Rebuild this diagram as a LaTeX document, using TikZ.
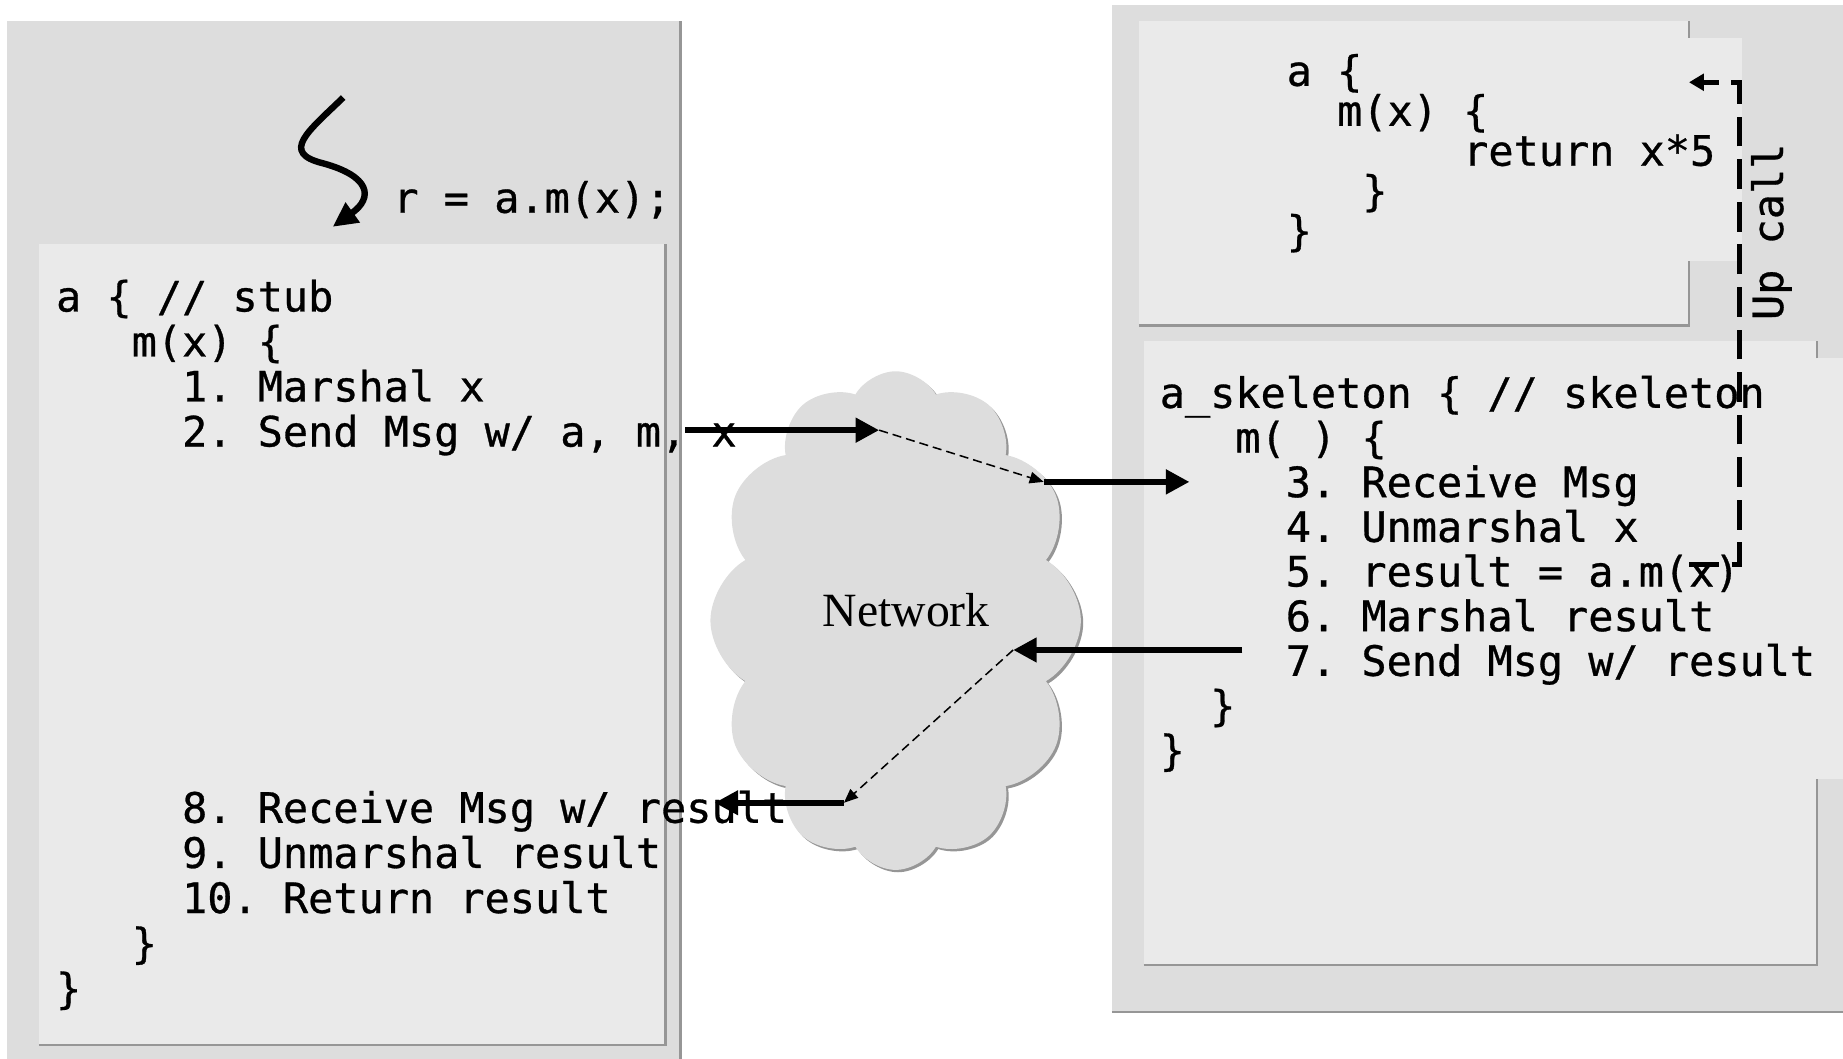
\documentclass[tikz,border=0pt]{standalone}
\usepackage{fontspec}
\setmonofont{DejaVu Sans Mono}[FakeBold=0.7]
\newfontfamily\netfont{Liberation Serif}
\usetikzlibrary{arrows.meta,shapes.symbols}

\definecolor{boxdark}{RGB}{221,221,221}
\definecolor{boxlight}{RGB}{234,234,234}
\definecolor{rimgray}{RGB}{150,150,150}

\tikzset{
  code/.style={font=\ttfamily\fontsize{10.13pt}{10.9pt}\selectfont, inner sep=0pt, anchor=base west},
  rim/.style={draw=rimgray, line width=0.6pt},
  netcloud/.style={cloud, cloud puffs=12, cloud puff arc=120, aspect=0.74,
    minimum width=3.15cm, minimum height=4.24cm, inner sep=0pt},
  thread/.style={line width=1.55pt, -{Triangle[length=6pt,width=5.6pt]}},
  fatarrow/.style={line width=1.5pt, -{Triangle[length=5.7pt,width=5.7pt]}},
  hop/.style={line width=0.37pt, dash pattern=on 2.2pt off 1.2pt, -{Triangle[length=3.4pt,width=2.8pt]}},
  upcall/.style={line width=1.15pt, dash pattern=on 7.2pt off 3.1pt, -{Triangle[length=3.6pt,width=4pt]}},
}

\begin{document}
\begin{tikzpicture}[x=0.01cm, y=-0.01cm]
\useasboundingbox (0,0) rectangle (1568,901);

% client side
\fill[boxdark] (6,18) rectangle (578,901);
\draw[rim] (579,18) -- (579,901);
\fill[boxlight] (33,208) rectangle (565,888);
\draw[rim] (33,889) -- (566,889) -- (566,208);

% server side
\fill[boxdark] (946,4) rectangle (1568,860);
\draw[rim] (946,861) -- (1568,861);
\fill[boxlight] (969,18) rectangle (1436,276);
\fill[boxlight] (1436,32) rectangle (1482,222);
\draw[rim] (969,277) -- (1437,277) -- (1437,222);
\draw[rim] (1437,32) -- (1437,18);
\fill[boxlight] (973,290) rectangle (1545,820);
\fill[boxlight] (1545,305) rectangle (1568,663);
\draw[rim] (973,821) -- (1546,821) -- (1546,663);
\draw[rim] (1546,305) -- (1546,290);

% network
\node[netcloud, fill=rimgray] (netshadow) at (764,530) {};
\node[netcloud, fill=boxdark] (net) at (762,528) {};
\node[font=\netfont\fontsize{11.55pt}{12pt}\selectfont, inner sep=0pt, anchor=base] (netlabel) at (771,533) {Network};

% caller thread
\coordinate (threadA) at (292,83);
\coordinate (threadB) at (275,139);
\coordinate (threadC) at (283,193);
\draw[thread] (threadA) .. controls (262,112) and (238,130) .. (threadB)
  .. controls (315,150) and (318,168) .. (threadC);
\node[code] (call) at (334,181) {r = a.m(x);};

% stub code
\foreach \ind/\txt [count=\i] in {0/{a \{ // stub}, 3/{m(x) \{}, 5/{1. Marshal x}, 5/{2. Send Msg w/ a, m, x}}
  \node[code] (stub\i) at ({47+21.45*\ind}, {265+38.3*(\i-1)}) {\txt};
\foreach \ind/\txt [count=\i] in {5/{8. Receive Msg w/ result}, 5/{9. Unmarshal result}, 5/{10. Return result}, 3/{\}}, 0/{\}}}
  \node[code] (stubend\i) at ({47+21.45*\ind}, {700+38.4*(\i-1)}) {\txt};

% object code
\foreach \ind/\txt [count=\i] in {0/{a \{}, 2/{m(x) \{}, 7/{return x*5}, 3/{\}}, 0/{\}}}
  \node[code] (obj\i) at ({1094+21.45*\ind}, {73+34*(\i-1)}) {\txt};

% skeleton code
\foreach \ind/\txt [count=\i] in {0/{a\_skeleton \{ // skeleton}, 3/{m( ) \{}, 5/{3. Receive Msg}, 5/{4. Unmarshal x},
    5/{5. result = a.m(x)}, 5/{6. Marshal result}, 5/{7. Send Msg w/ result}, 2/{\}}, 0/{\}}}
  \node[code] (skel\i) at ({986+21.45*\ind}, {347+38*(\i-1)}) {\txt};

% request
\coordinate (sendA) at (583,366);
\coordinate (sendB) at (748,366);
\coordinate (sendC) at (888,410);
\coordinate (sendD) at (1012,410);
\draw[fatarrow] (sendA) -- (sendB);
\draw[hop] (sendB) -- (sendC);
\draw[fatarrow] (sendC) -- (sendD);

% reply
\coordinate (replyA) at (1057,553);
\coordinate (replyB) at (862,553);
\coordinate (replyC) at (718,683);
\coordinate (replyD) at (608,683);
\draw[fatarrow] (replyA) -- (replyB);
\draw[hop] (replyB) -- (replyC);
\draw[fatarrow] (replyC) -- (replyD);

% up call
\coordinate (upA) at (1437,480);
\coordinate (upB) at (1480,480);
\coordinate (upC) at (1480,70);
\coordinate (upD) at (1437,70);
\draw[upcall] (upA) -- (upB) -- (upC) -- (upD);
\node[code, rotate=90] (uplabel) at (1517,273) {Up call};
\end{tikzpicture}
\end{document}
